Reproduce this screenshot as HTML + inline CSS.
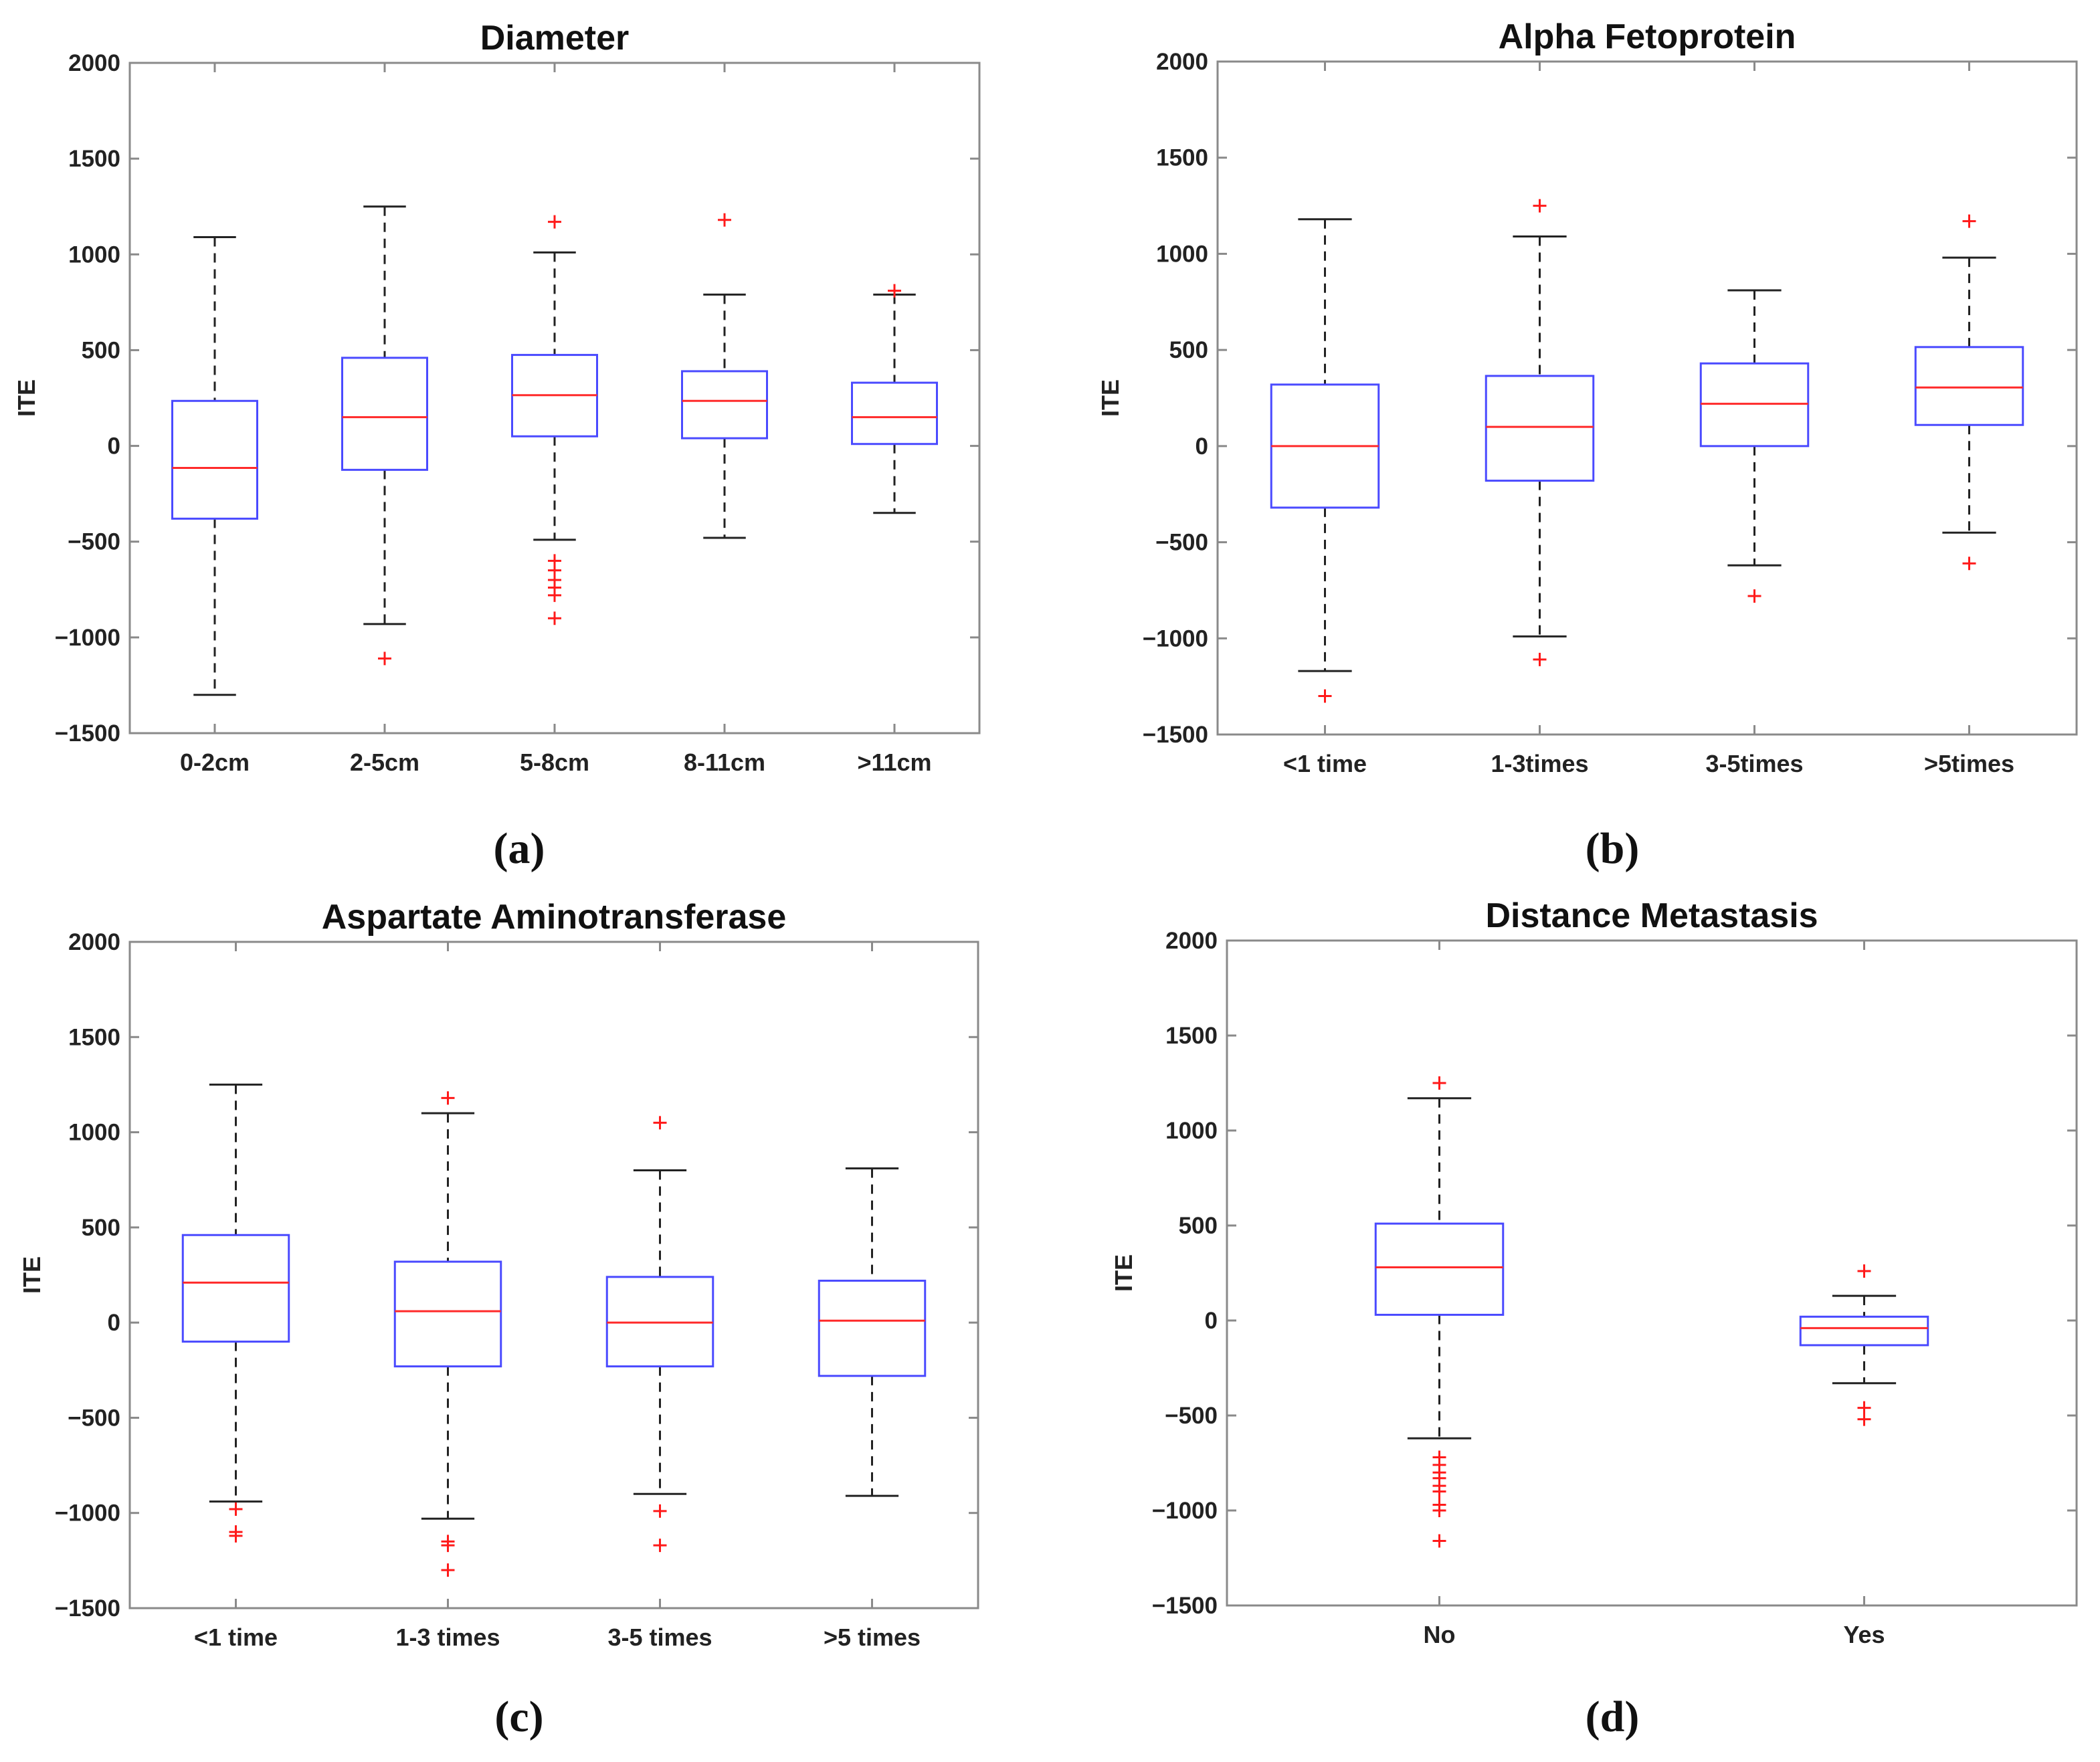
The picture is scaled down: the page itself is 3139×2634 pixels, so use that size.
<!DOCTYPE html>
<html><head><meta charset="utf-8">
<style>
html,body{margin:0;padding:0;background:#fff;}
svg{display:block;}
</style></head>
<body>
<svg id="fig" width="3139" height="2634" xmlns="http://www.w3.org/2000/svg" font-family="Liberation Sans, Arial, sans-serif">
<rect width="3139" height="2634" fill="#fff"/>
</svg>
<script>
const yTicks = [-1500,-1000,-500,0,500,1000,1500,2000];
const titles = ["Diameter","Alpha Fetoprotein","Aspartate Aminotransferase","Distance Metastasis"];
const subLabels = ["(a)","(b)","(c)","(d)"];
const catsA = ["0-2cm","2-5cm","5-8cm","8-11cm",">11cm"];
const catsB = ["<1 time","1-3times","3-5times",">5times"];
const catsC = ["<1 time","1-3 times","3-5 times",">5 times"];
const catsD = ["No","Yes"];
// [upper whisker, q3, median, q1, lower whisker]
const statsA = [[1090,235,-115,-380,-1300],[1250,460,150,-125,-930],[1010,475,265,50,-490],[790,390,235,40,-480],[790,330,150,10,-350]];
const statsB = [[1180,320,0,-320,-1170],[1090,365,100,-180,-990],[810,430,220,0,-620],[980,515,305,110,-450]];
const statsC = [[1250,460,210,-100,-940],[1100,320,60,-230,-1030],[800,240,0,-230,-900],[810,220,10,-280,-910]];
const statsD = [[1170,510,280,30,-620],[130,20,-40,-130,-330]];
const outA = [[],[-1110],[1170,-600,-650,-700,-740,-780,-900],[1180],[810]];
const outB = [[-1300],[1250,-1110],[-780],[1170,-610]];
const outC = [[-980,-1100,-1120],[1180,-1150,-1170,-1300],[1050,-990,-1170],[]];
const outD = [[1250,-720,-760,-800,-830,-870,-900,-970,-1000,-1160],[260,-460,-520]];

const NS="http://www.w3.org/2000/svg";
const svg=document.getElementById('fig');
function mk(tag,attrs,parent){const e=document.createElementNS(NS,tag);for(const k in attrs)e.setAttribute(k,attrs[k]);(parent||svg).appendChild(e);return e;}

const panels=[
 {L:194,R:1464,T:94,B:1096,cats:catsA,stats:statsA,outs:outA,bw:0.5,sub:[776,1268],ylx:40},
 {L:1820,R:3104,T:92,B:1098,cats:catsB,stats:statsB,outs:outB,bw:0.5,sub:[2410,1268],ylx:1660},
 {L:194,R:1462,T:1408,B:2404,cats:catsC,stats:statsC,outs:outC,bw:0.5,sub:[776,2566],ylx:48},
 {L:1834,R:3104,T:1406,B:2400,cats:catsD,stats:statsD,outs:outD,bw:0.3,sub:[2410,2566],ylx:1680}
];

panels.forEach((p,pi)=>{
 const g=mk('g',{});
 
 
 const n=p.cats.length;
 const xs=v=>p.L+(v-0.5)/n*(p.R-p.L);
 const ys=v=>p.B-(v+1500)/3500*(p.B-p.T);
 const unit=(p.R-p.L)/n;
 const box=mk('rect',{x:p.L,y:p.T,width:p.R-p.L,height:p.B-p.T,fill:'none',stroke:'#8a8a8a','stroke-width':3},g);
 
 
 yTicks.forEach(t=>{
  const y=ys(t);
  mk('line',{x1:p.L,x2:p.L+14,y1:y,y2:y,stroke:'#8a8a8a','stroke-width':3},g);
  mk('line',{x1:p.R,x2:p.R-14,y1:y,y2:y,stroke:'#8a8a8a','stroke-width':3},g);
  const tx=mk('text',{x:p.L-14,y:y+12,'text-anchor':'end','font-size':35,'font-weight':'bold',fill:'#222'},g);
  tx.textContent=t<0?'\u2212'+Math.abs(t):String(t);
  
  
 });
 const yl=mk('text',{x:p.ylx,y:(p.T+p.B)/2,'text-anchor':'middle','font-size':36,'font-weight':'bold',fill:'#222',transform:`rotate(-90 ${p.ylx} ${(p.T+p.B)/2})`,dy:12},g);
 yl.textContent='ITE';
 
 
 const tt=mk('text',{x:(p.L+p.R)/2,y:p.T-20,'text-anchor':'middle','font-size':52,'font-weight':'bold',fill:'#111'},g);
 tt.textContent=titles[pi];
 
 
 const sl=mk('text',{x:p.sub[0],y:p.sub[1]+22,'text-anchor':'middle','font-size':66,'font-family':'Liberation Serif, serif','font-weight':'bold',fill:'#111'},g);
 sl.textContent=subLabels[pi];
 
 
 p.cats.forEach((c,i)=>{
  const cx=xs(i+1);
  mk('line',{x1:cx,x2:cx,y1:p.B,y2:p.B-14,stroke:'#8a8a8a','stroke-width':3},g);
  mk('line',{x1:cx,x2:cx,y1:p.T,y2:p.T+14,stroke:'#8a8a8a','stroke-width':3},g);
  const cl=mk('text',{x:cx,y:p.B+56,'text-anchor':'middle','font-size':36,'font-weight':'bold',fill:'#222'},g);
  cl.textContent=c;
  
  
  const s=p.stats[i];
  const hw=p.bw*unit/2, cw=hw/2;
  const bg=mk('g',{},g);
  
  
  mk('line',{x1:cx,x2:cx,y1:ys(s[0]),y2:ys(s[1]),stroke:'#222','stroke-width':3,'stroke-dasharray':'14 10'},bg);
  mk('line',{x1:cx,x2:cx,y1:ys(s[3]),y2:ys(s[4]),stroke:'#222','stroke-width':3,'stroke-dasharray':'14 10'},bg);
  mk('line',{x1:cx-cw,x2:cx+cw,y1:ys(s[0]),y2:ys(s[0]),stroke:'#222','stroke-width':3},bg);
  mk('line',{x1:cx-cw,x2:cx+cw,y1:ys(s[4]),y2:ys(s[4]),stroke:'#222','stroke-width':3},bg);
  mk('rect',{x:cx-hw,y:ys(s[1]),width:2*hw,height:ys(s[3])-ys(s[1]),fill:'none',stroke:'#4a4aff','stroke-width':3},bg);
  mk('line',{x1:cx-hw,x2:cx+hw,y1:ys(s[2]),y2:ys(s[2]),stroke:'#ff2a2a','stroke-width':3},bg);
  p.outs[i].forEach(o=>{
   const oy=ys(o);
   mk('path',{d:`M${cx-10},${oy}H${cx+10}M${cx},${oy-10}V${oy+10}`,stroke:'#ff1a1a','stroke-width':3},bg);
  });
 });
});
</script>
</body></html>
